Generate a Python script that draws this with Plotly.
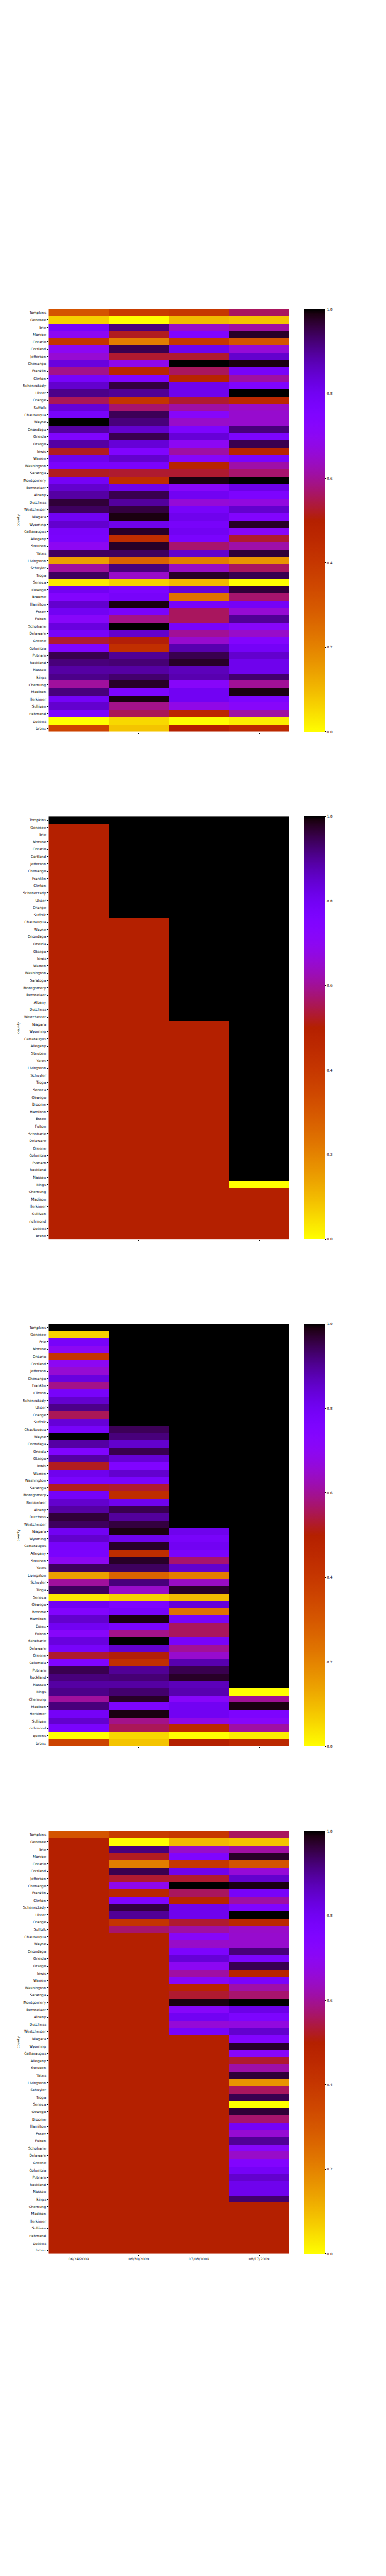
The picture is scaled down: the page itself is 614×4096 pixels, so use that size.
import numpy as np
import plotly.graph_objects as go

# ---------------- data ----------------
counties = ["Tompkins", "Genesee", "Erie", "Monroe", "Ontario", "Cortland", "Jefferson",
            "Chenango", "Franklin", "Clinton", "Schenectady", "Ulster", "Orange", "Suffolk",
            "Chautauqua", "Wayne", "Onondaga", "Oneida", "Otsego", "lewis", "Warren",
            "Washington", "Saratoga", "Montgomery", "Rensselaer", "Albany", "Dutchess",
            "Westchester", "Niagara", "Wyoming", "Cattaraugus", "Allegany", "Steuben",
            "Yates", "Livingston", "Schuyler", "Tioga", "Seneca", "Oswego", "Broome",
            "Hamilton", "Essex", "Fulton", "Schoharie", "Delaware", "Greene", "Columbia",
            "Putnam", "Rockland", "Nassau", "kings", "Chemung", "Madison", "Herkimer",
            "Sullivan", "richmond", "queens", "bronx"]

dates = ["06/24/2009", "06/30/2009", "07/08/2009", "08/17/2009"]

col_0624 = [0.31, 0.066, 0.78, 0.70, 0.41, 0.70, 0.655, 0.83, 0.59, 0.78, 0.85, 0.91, 0.555, 0.84,
            0.78, 1.00, 0.89, 0.75, 0.89, 0.52, 0.81, 0.77, 0.52, 0.79, 0.85, 0.89, 0.965,
            0.94, 0.80, 0.85, 0.78, 0.77, 0.70, 0.94, 0.144, 0.605, 0.94, 0.031, 0.80, 0.74,
            0.85, 0.80, 0.72, 0.83, 0.78, 0.53, 0.75, 0.95, 0.92, 0.89, 0.91, 0.605, 0.92,
            0.79, 0.85, 0.77, 0.0, 0.36]
col_0630 = [0.385, 0.0, 0.92, 0.52, 0.21, 0.95, 0.53, 0.69, 0.47, 0.75, 0.96, 0.90, 0.41, 0.57,
            0.945, 0.92, 0.85, 0.95, 0.84, 0.75, 0.85, 0.77, 0.53, 0.44, 0.81, 0.95, 0.895,
            0.96, 0.99, 0.81, 0.975, 0.44, 0.975, 0.94, 0.27, 0.92, 0.645, 0.066, 0.76, 0.78,
            0.99, 0.77, 0.59, 1.00, 0.85, 0.505, 0.43, 0.90, 0.925, 0.89, 0.93, 0.975, 0.76,
            0.99, 0.59, 0.555, 0.055, 0.085]
col_0708 = [0.40, 0.10, 0.645, 0.75, 0.40, 0.81, 0.53, 1.00, 0.56, 0.48, 0.81, 0.81, 0.53, 0.61,
            0.72, 0.645, 0.76, 0.84, 0.70, 0.61, 0.72, 0.48, 0.53, 0.99, 0.72, 0.80, 0.66,
            0.78, 0.81, 0.78, 0.80, 0.77, 0.57, 0.85, 0.21, 0.64, 0.975, 0.10, 0.84, 0.235,
            0.78, 0.56, 0.56, 0.78, 0.60, 0.65, 0.88, 0.95, 0.975, 0.87, 0.88, 0.72, 0.80,
            0.80, 0.68, 0.46, 0.0, 0.50]
col_0817 = [0.56, 0.085, 0.61, 0.975, 0.31, 0.66, 0.85, 0.99, 0.78, 0.61, 0.75, 1.00, 0.46, 0.645,
            0.65, 0.65, 0.92, 0.76, 0.95, 0.48, 0.77, 0.615, 0.57, 1.00, 0.82, 0.76, 0.67,
            0.85, 0.74, 0.975, 0.72, 0.53, 0.615, 0.965, 0.166, 0.56, 0.95, 0.0, 0.965, 0.57,
            0.79, 0.655, 0.90, 0.72, 0.645, 0.74, 0.79, 0.85, 0.81, 0.81, 0.93, 0.60, 0.99,
            0.76, 0.72, 0.61, 0.025, 0.46]

# mask panel (value per cell)
mask_0624 = [1.0] * 1 + [0.5] * 57
mask_0630 = [1.0] * 14 + [0.5] * 44
mask_0708 = [1.0] * 28 + [0.5] * 30
mask_0817 = [1.0] * 50 + [0.0] * 1 + [0.5] * 7

# ---------------- build matrices ----------------
data = np.array([col_0624, col_0630, col_0708, col_0817]).T
mask = np.array([mask_0624, mask_0630, mask_0708, mask_0817]).T
masked_lower = np.where(mask == 0.5, data, mask)   # third chart
masked_upper = np.where(mask == 0.5, 0.5, data)    # fourth chart
panels = [data, mask, masked_lower, masked_upper]

# gnuplot colormap, reversed
def gnuplot_r(n=101):
    scale = []
    for v in np.linspace(0, 1, n):
        x = 1 - v
        r = np.sqrt(x)
        g = x ** 3
        b = min(max(np.sin(2 * np.pi * x), 0), 1)
        scale.append([float(v), "rgb(%d,%d,%d)" % (round(r * 255), round(g * 255), round(b * 255))])
    return scale

cscale = gnuplot_r()

W, H = 614, 4096
FW, FH = 1080.0, 7200.0
tops = [864, 2282, 3700, 5118]
ph = 1182
x0, x1 = 136 / FW, 809 / FW
cbx = 849 / FW
fs = 5.68

fig = go.Figure()
layout = dict(width=W, height=H, margin=dict(l=0, r=0, t=0, b=0, pad=0),
              template="none",
              paper_bgcolor="white", plot_bgcolor="white",
              font=dict(family="DejaVu Sans", size=fs, color="black"),
              showlegend=False)
annotations = []
for i, z in enumerate(panels):
    d1 = 1 - tops[i] / FH
    d0 = 1 - (tops[i] + ph) / FH
    xa = "x" if i == 0 else "x%d" % (i + 1)
    ya = "y" if i == 0 else "y%d" % (i + 1)
    fig.add_trace(go.Heatmap(
        z=z, x=dates, y=counties, xaxis=xa, yaxis=ya,
        colorscale=cscale, zmin=0, zmax=1,
        colorbar=dict(x=cbx, xanchor="left", y=(d0 + d1) / 2, yanchor="middle",
                      len=d1 - d0, lenmode="fraction", thickness=34, thicknessmode="pixels",
                      xpad=0, ypad=0, outlinewidth=0, ticks="outside", ticklen=2,
                      tickwidth=0.6, tickcolor="black",
                      tickvals=[0, 0.2, 0.4, 0.6, 0.8, 1.0],
                      ticktext=["0.0", "0.2", "0.4", "0.6", "0.8", "1.0"],
                      tickfont=dict(size=fs, color="black", family="DejaVu Sans")),
        hoverinfo="skip"))
    kx = "xaxis" if i == 0 else "xaxis%d" % (i + 1)
    ky = "yaxis" if i == 0 else "yaxis%d" % (i + 1)
    layout[kx] = dict(domain=[x0, x1], anchor=ya, type="category", automargin=False,
                      showgrid=False, zeroline=False, showline=False,
                      ticks="outside", ticklen=2, tickwidth=0.6, tickcolor="black",
                      showticklabels=(i == 3), tickangle=0,
                      tickfont=dict(size=fs, color="black"))
    layout[ky] = dict(domain=[d0, d1], anchor=xa, type="category", automargin=False,
                      autorange="reversed", showgrid=False, zeroline=False, showline=False,
                      ticks="outside", ticklen=2, tickwidth=0.6, tickcolor="black",
                      tickfont=dict(size=fs, color="black"))
    annotations.append(dict(text="county", xref="paper", yref="paper",
                            x=52 / FW, y=(d0 + d1) / 2, xanchor="center", yanchor="middle",
                            textangle=-90, showarrow=False,
                            font=dict(size=fs, color="black", family="DejaVu Sans")))

layout["annotations"] = annotations
fig.update_layout(**layout)
fig.write_html("out.html", config={"displayModeBar": False},
               post_script="document.body.style.margin='0';document.body.style.padding='0';")
